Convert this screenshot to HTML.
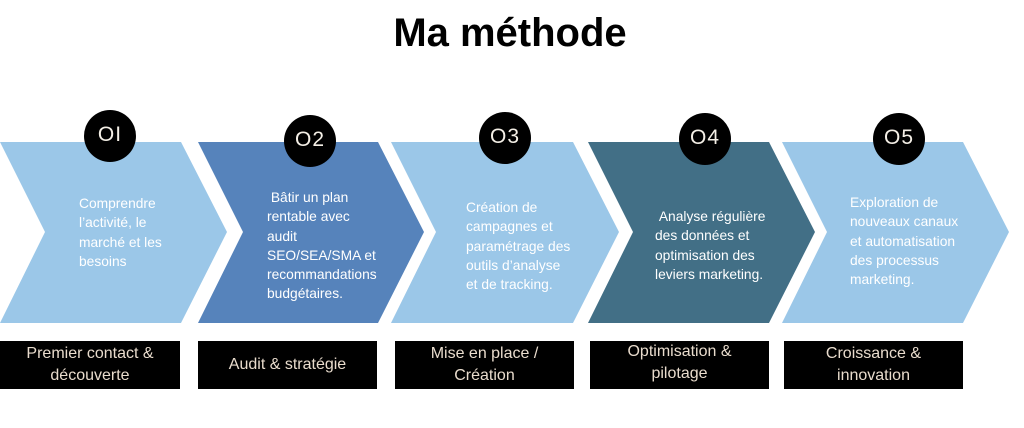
<!DOCTYPE html>
<html><head><meta charset="utf-8"><style>
body{margin:0;width:1024px;height:428px;background:#fff;position:relative;overflow:hidden;font-family:"Liberation Sans",sans-serif}
h1{position:absolute;top:11px;left:0;width:1020px;text-align:center;margin:0;font-size:40px;font-weight:bold;color:#000}
svg{position:absolute;left:0;top:0}
.t{position:absolute;color:#fff;font-size:13.8px;line-height:19.3px;white-space:nowrap}
.b{position:absolute;top:341px;height:48px;background:#000;color:#e9dccd;font-size:16px;line-height:22px;text-align:center;display:flex;align-items:center;justify-content:center}
.n{position:absolute;width:52px;height:52px;border-radius:50%;background:#000;color:#f4efe6;font-size:21px;text-align:center;line-height:50px;letter-spacing:1px}
</style></head><body>
<h1>Ma méthode</h1>
<svg width="1024" height="428">
<polygon points="0,142 181,142 227,232 181,323 0,323 45,232" fill="#9bc7e8"/>
<polygon points="198,142 378,142 424,232 378,323 198,323 243,232" fill="#5683bb"/>
<polygon points="391,142 573,142 619,232 573,323 391,323 436,232" fill="#9bc7e8"/>
<polygon points="588,142 769,142 815,232 769,323 588,323 633,232" fill="#426f86"/>
<polygon points="782,142 963,142 1009,232 963,323 782,323 827,232" fill="#9bc7e8"/>
</svg>
<div class="n" style="left:84px;top:110px">OI</div>
<div class="n" style="left:284px;top:115px">O2</div>
<div class="n" style="left:479px;top:112px">O3</div>
<div class="n" style="left:679px;top:113px">O4</div>
<div class="n" style="left:873px;top:113px">O5</div>
<div class="t" style="left:79px;top:194px">Comprendre<br>l’activité, le<br>marché et les<br>besoins</div>
<div class="t" style="left:267px;top:188px">&nbsp;Bâtir un plan<br>rentable avec<br>audit<br>SEO/SEA/SMA et<br>recommandations<br>budgétaires.</div>
<div class="t" style="left:466px;top:198px">Création de<br>campagnes et<br>paramétrage des<br>outils d’analyse<br>et de tracking.</div>
<div class="t" style="left:655px;top:207px">&nbsp;Analyse régulière<br>des données et<br>optimisation des<br>leviers marketing.</div>
<div class="t" style="left:850px;top:193px">Exploration de<br>nouveaux canaux<br>et automatisation<br>des processus<br>marketing.</div>
<div class="b" style="left:0;width:180px">Premier contact &amp;<br>découverte</div>
<div class="b" style="left:198px;width:179px">Audit &amp; stratégie</div>
<div class="b" style="left:395px;width:179px">Mise en place /<br>Création</div>
<div class="b" style="left:590px;width:179px;align-items:flex-start">Optimisation &amp;<br>pilotage</div>
<div class="b" style="left:784px;width:179px">Croissance &amp;<br>innovation</div>
</body></html>
